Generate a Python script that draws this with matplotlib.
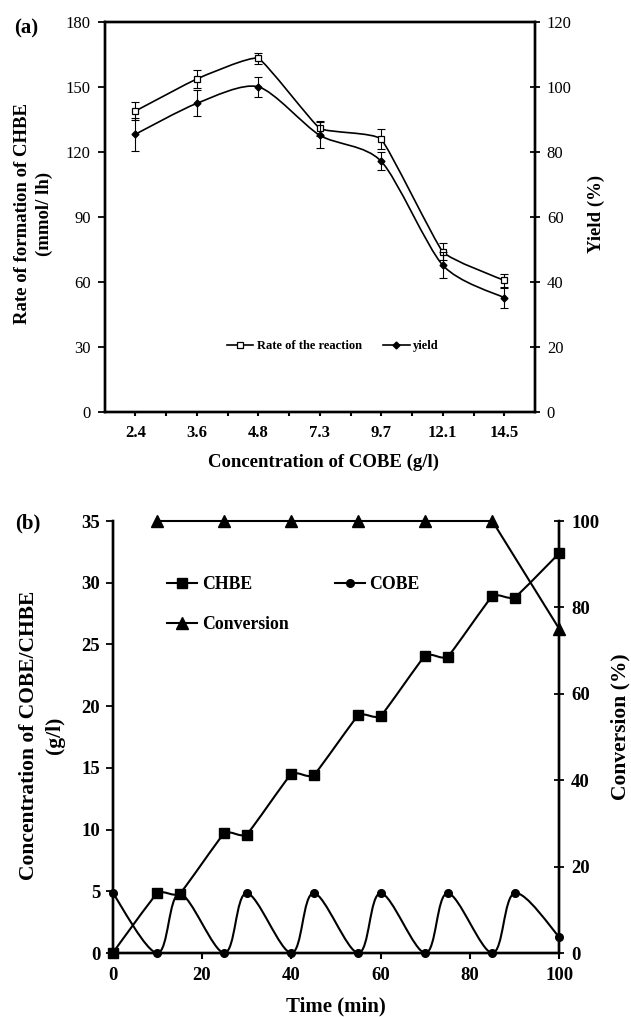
import matplotlib
import numpy as np

matplotlib.use("Agg")
import matplotlib.pyplot as plt
from matplotlib.lines import Line2D
from matplotlib.patches import PathPatch
from matplotlib.path import Path

plt.rcParams["font.family"] = ["Liberation Serif", "DejaVu Serif"]

# ---- panel (a) data ----
conc_labels = ["2.4", "3.6", "4.8", "7.3", "9.7", "12.1", "14.5"]
rate = [138.8, 153.6, 163.1, 130.9, 125.8, 74.0, 60.8]
rate_err = [4.0, 4.0, 2.6, 3.5, 4.6, 3.8, 3.0]
yield_pct = [85.4, 94.9, 100.0, 85.1, 77.1, 45.2, 35.2]
yield_err = [5.0, 4.0, 3.0, 4.0, 2.8, 4.0, 3.1]

# ---- panel (b) data ----
t_chbe = [0, 10, 15, 25, 30, 40, 45, 55, 60, 70, 75, 85, 90, 100]
chbe = [0.0, 4.85, 4.8, 9.7, 9.6, 14.5, 14.4, 19.25, 19.2, 24.1, 24.0, 28.9, 28.8, 32.4]
t_cobe = [0, 10, 15, 25, 30, 40, 45, 55, 60, 70, 75, 85, 90, 100]
cobe = [4.87, 0.0, 4.8, 0.0, 4.85, 0.0, 4.85, 0.0, 4.85, 0.0, 4.85, 0.0, 4.85, 1.3]
t_conv = [10, 25, 40, 55, 70, 85, 100]
conversion = [100, 100, 100, 100, 100, 100, 75]

W, H = 631, 1017


def rect(left, top, right, bottom):
    return [left / W, 1 - bottom / H, (right - left) / W, (bottom - top) / H]


def px(x, y):
    return x / W, 1 - y / H


def smooth_path(xs, ys, k):
    # excel-like smoothed line: cubic bezier through the points, k = tension
    pts = np.column_stack([xs, ys]).astype(float)
    n = len(pts)
    verts = [pts[0]]
    codes = [Path.MOVETO]
    for i in range(n - 1):
        p0 = pts[max(i - 1, 0)]
        p1 = pts[i]
        p2 = pts[i + 1]
        p3 = pts[min(i + 2, n - 1)]
        verts += [p1 + (p2 - p0) * k, p2 - (p3 - p1) * k, p2]
        codes += [Path.CURVE4] * 3
    return Path(verts, codes)


def smooth_line(ax, xs, ys, lw, k=1 / 6):
    ax.add_patch(PathPatch(smooth_path(xs, ys, k), facecolor="none", edgecolor="black",
                           lw=lw, clip_on=False, zorder=3))


fig = plt.figure(figsize=(W / 100, H / 100), dpi=100)

# ================= panel (a) =================
ax = fig.add_axes(rect(104.5, 21.7, 535, 412.3))
ax2 = ax.twinx()
xpos = np.arange(len(conc_labels))

smooth_line(ax, xpos, rate, 1.2, k=0.06)
ax.errorbar(xpos, rate, yerr=rate_err, fmt="none", ecolor="black", elinewidth=0.8,
            capsize=3, capthick=0.8, zorder=4)
ax.plot(xpos, rate, ls="none", marker="s", ms=5, mfc="white", mec="black", mew=0.9, zorder=5)

smooth_line(ax2, xpos, yield_pct, 1.2, k=0.13)
ax2.errorbar(xpos, yield_pct, yerr=yield_err, fmt="none", ecolor="black", elinewidth=0.8,
             capsize=3, capthick=0.8, zorder=4)
ax2.plot(xpos, yield_pct, ls="none", marker="D", ms=3.5, color="black", zorder=5)

ax.set_xlim(-0.5, len(conc_labels) - 0.5)
ax.set_ylim(0, 180)
ax2.set_ylim(0, 120)
ax.set_yticks(np.arange(0, 181, 30))
ax2.set_yticks(np.arange(0, 121, 20))
ax.set_xticks(xpos)
ax.set_xticklabels(conc_labels, fontweight="bold")
ax.set_xticks(xpos[:-1] + 0.5, minor=True)
ax.tick_params(axis="x", which="both", direction="out", length=3, width=1.5, labelsize=12, pad=6)
ax.tick_params(axis="y", direction="out", length=5, width=1.3, labelsize=12, pad=5)
ax2.tick_params(axis="y", direction="inout", length=7, width=1.3, labelsize=12, pad=5)
for a in (ax, ax2):
    for s in a.spines.values():
        s.set_linewidth(1.7)

leg_a = ax2.legend(
    handles=[
        Line2D([], [], color="black", lw=1.2, marker="s", ms=5, mfc="white", mec="black", mew=0.9),
        Line2D([], [], color="black", lw=1.2, marker="D", ms=3.5),
    ],
    labels=["Rate of the reaction", "yield"],
    loc="center left", bbox_to_anchor=(0.2846, 0.17), ncol=2, frameon=False,
    borderpad=0, borderaxespad=0, handlelength=2.1, handletextpad=0.3, columnspacing=1.7,
    prop={"size": 9, "weight": "bold"},
)

fig.text(*px(26, 28), "(a)", fontsize=15, fontweight="bold", ha="center", va="center")
fig.text(*px(33.5, 214), "Rate of formation of CHBE\n(mmol/ lh)", rotation=90, fontsize=13.5,
         fontweight="bold", ha="center", va="center", linespacing=1.35)
fig.text(*px(596, 214), "Yield (%)", rotation=90, fontsize=13.5, fontweight="bold",
         ha="center", va="center")
fig.text(*px(323, 462), "Concentration of COBE (g/l)", fontsize=13.5, fontweight="bold",
         ha="center", va="center")

# ================= panel (b) =================
bx = fig.add_axes(rect(112.7, 521, 559.3, 953))
bx2 = bx.twinx()

smooth_line(bx, t_chbe, chbe, 1.5, k=0.07)
bx.plot(t_chbe, chbe, ls="none", marker="s", ms=7, color="black", zorder=5, clip_on=False)
smooth_line(bx, t_cobe, cobe, 1.5)
bx.plot(t_cobe, cobe, ls="none", marker="o", ms=5.5, color="black", zorder=5, clip_on=False)
bx2.plot(t_conv, conversion, color="black", lw=1.5, marker="^", ms=9, zorder=5, clip_on=False)

bx.set_xlim(0, 100)
bx.set_ylim(0, 35)
bx2.set_ylim(0, 100)
bx.set_xticks(np.arange(0, 101, 20))
bx.set_yticks(np.arange(0, 36, 5))
bx2.set_yticks(np.arange(0, 101, 20))
for a in (bx, bx2):
    a.spines["top"].set_visible(False)
    for s in a.spines.values():
        s.set_linewidth(1.7)
for lab in bx.get_xticklabels() + bx.get_yticklabels() + bx2.get_yticklabels():
    lab.set_fontweight("bold")
bx.tick_params(axis="x", direction="out", length=4, width=1.5, labelsize=13.5, pad=6)
bx.tick_params(axis="y", direction="out", length=5, width=1.3, labelsize=13.5, pad=4)
bx2.tick_params(axis="y", direction="inout", length=7, width=1.3, labelsize=13.5, pad=5)

leg_b = bx2.legend(
    handles=[
        Line2D([], [], color="black", lw=1.5, marker="s", ms=7),
        Line2D([], [], color="black", lw=1.5, marker="^", ms=9),
        Line2D([], [], color="black", lw=1.5, marker="o", ms=5.5),
    ],
    labels=["CHBE", "Conversion", "COBE"],
    loc="center left", bbox_to_anchor=(0.1216, 0.807), ncol=2, frameon=False,
    borderpad=0, borderaxespad=0, handlelength=1.7, handletextpad=0.25, columnspacing=2.6,
    labelspacing=1.3, prop={"size": 12.8, "weight": "bold"},
)

fig.text(*px(28, 523), "(b)", fontsize=15, fontweight="bold", ha="center", va="center")
fig.text(*px(42, 735), "Concentration of COBE/CHBE\n(g/l)", rotation=90, fontsize=15.5,
         fontweight="bold", ha="center", va="center", linespacing=1.45)
fig.text(*px(620, 727), "Conversion (%)", rotation=90, fontsize=15.5, fontweight="bold",
         ha="center", va="center")
fig.text(*px(336, 1006), "Time (min)", fontsize=15, fontweight="bold", ha="center", va="center")

fig.savefig("out.png", dpi=100)
